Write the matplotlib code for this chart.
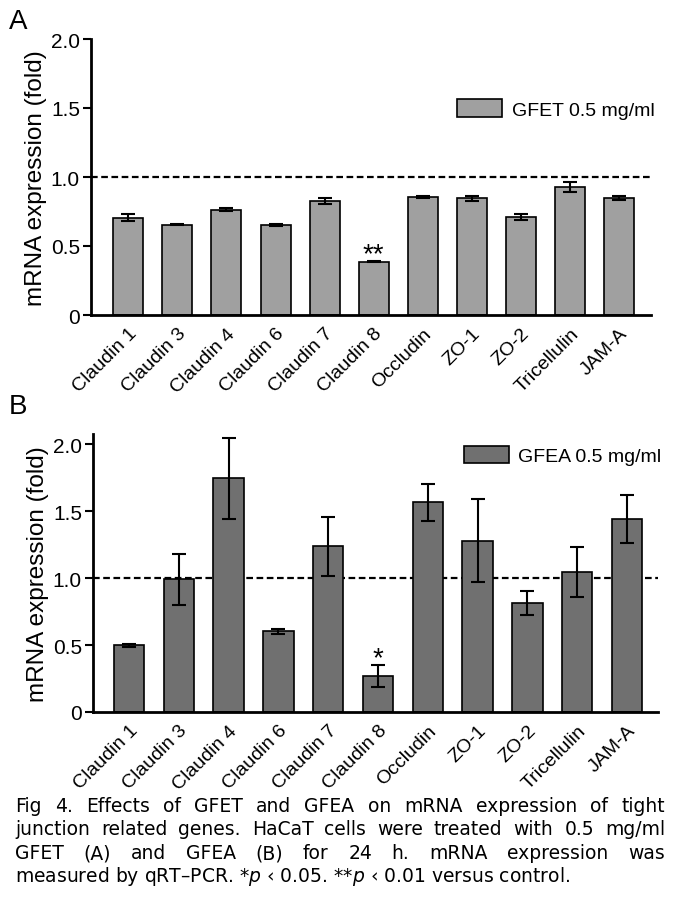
import numpy as np
import matplotlib.pyplot as plt
from matplotlib.patches import Patch

genes = ["Claudin 1", "Claudin 3", "Claudin 4", "Claudin 6", "Claudin 7", "Claudin 8",
         "Occludin", "ZO-1", "ZO-2", "Tricellulin", "JAM-A"]

gfet_mean = [0.705, 0.655, 0.763, 0.652, 0.829, 0.386, 0.855, 0.845, 0.71, 0.93, 0.848]
gfet_err = [0.025, 0.005, 0.012, 0.007, 0.022, 0.005, 0.005, 0.019, 0.02, 0.037, 0.016]

gfea_mean = [0.497, 0.991, 1.744, 0.602, 1.237, 0.266, 1.566, 1.28, 0.813, 1.044, 1.44]
gfea_err = [0.01, 0.19, 0.30, 0.02, 0.22, 0.083, 0.137, 0.31, 0.087, 0.184, 0.18]

caption = [
    "Fig 4. Effects of GFET and GFEA on mRNA expression of tight",
    "junction related genes. HaCaT cells were treated with 0.5 mg/ml",
    "GFET (A) and GFEA (B) for 24 h. mRNA expression was",
]

plt.rcParams['font.family'] = ['Liberation Sans', 'DejaVu Sans']

W, H = 679, 920
fig = plt.figure(figsize=(W / 100, H / 100), dpi=100)


def px_axes(l, r, b, t):
    return fig.add_axes([l / W, 1 - b / H, (r - l) / W, (b - t) / H])


def panel(ax, mean, err, color, label, ylim, xlim, stars, star_y):
    x = np.arange(len(genes))
    ax.bar(x, mean, width=0.61, color=color, edgecolor='black', linewidth=1.2, zorder=2)
    ax.errorbar(x, mean, yerr=err, fmt='none', ecolor='black', elinewidth=1.5,
                capsize=5, capthick=1.5, zorder=3)
    ax.axhline(1.0, color='black', linestyle=(0, (3, 1.6)), linewidth=1.6, zorder=1)
    ax.set_xlim(*xlim)
    ax.set_ylim(*ylim)
    ax.set_yticks([0, 0.5, 1.0, 1.5, 2.0])
    ax.set_yticklabels(["0", "0.5", "1.0", "1.5", "2.0"])
    ax.set_xticks(x)
    ax.set_xticklabels(genes, rotation=45, ha='right', rotation_mode='anchor')
    ax.tick_params(axis='x', length=0, labelsize=14, pad=7)
    ax.tick_params(axis='y', length=6, width=1.5, labelsize=15, pad=2)
    for s in ['top', 'right']:
        ax.spines[s].set_visible(False)
    for s in ['left', 'bottom']:
        ax.spines[s].set_linewidth(2)
    ax.set_ylabel("mRNA expression (fold)", fontsize=17.5, labelpad=3)
    ax.text(5, star_y, stars, ha='center', va='center', fontsize=20)
    ax.legend(handles=[Patch(facecolor=color, edgecolor='black', linewidth=1.2, label=label)],
              loc='upper right', frameon=False, fontsize=14, handlelength=2.3,
              handleheight=1.0, handletextpad=0.5, borderaxespad=0.0)


axA = px_axes(91, 651, 316, 40)
panel(axA, gfet_mean, gfet_err, '#a0a0a0', "GFET 0.5 mg/ml", (0, 2.0), (-0.76, 10.65), "**", 0.44)
axA.get_legend().set_bbox_to_anchor((1.02, 0.81))

axB = px_axes(93, 658, 713, 435)
panel(axB, gfea_mean, gfea_err, '#707070', "GFEA 0.5 mg/ml", (0, 2.075), (-0.72, 10.62), "*", 0.405)
axB.get_legend().set_bbox_to_anchor((1.02, 0.985))

fig.text(9 / W, 1 - 22 / H, "A", fontsize=20, va='center', ha='left')
fig.text(9 / W, 1 - 407 / H, "B", fontsize=20, va='center', ha='left')

# caption, justified by hand
cap_font = ['DejaVu Sans']
cap_size = 13.5
left, right = 15, 665
line_y = [806, 830, 854]
fig.canvas.draw()
renderer = fig.canvas.get_renderer()
for line, y in zip(caption, line_y):
    words = line.split(" ")
    texts = [fig.text(0, 1 - y / H, w, fontsize=cap_size, family=cap_font, va='center', ha='left')
             for w in words]
    widths = [t.get_window_extent(renderer).width for t in texts]
    gap = (right - left - sum(widths)) / (len(words) - 1)
    pos = left
    for t, w in zip(texts, widths):
        t.set_x(pos / W)
        pos += w + gap

fig.text(left / W, 1 - 877 / H,
         "measured by qRT\u2013PCR. *$p$ \u2039 0.05. **$p$ \u2039 0.01 versus control.",
         fontsize=cap_size, family=cap_font, va='center', ha='left')

fig.savefig("out.png", dpi=100)
